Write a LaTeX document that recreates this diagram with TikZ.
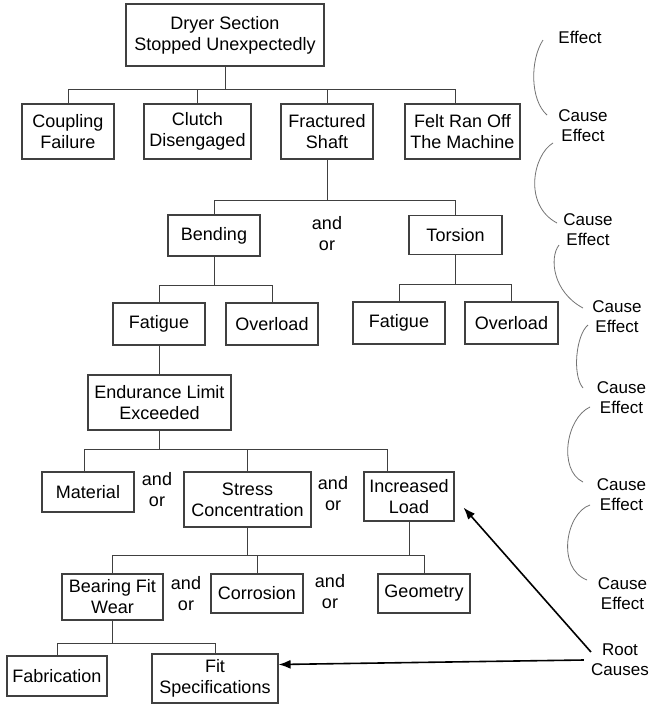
\documentclass[tikz,border=0pt]{standalone}
\usepackage{fontspec}
\setmainfont{Liberation Sans}
\usetikzlibrary{arrows.meta}
\begin{document}
\begin{tikzpicture}[x=1pt,y=-1pt,
  bx/.style={draw=black!75, line width=1.1pt, rectangle, inner sep=0pt, align=center, font=\fontsize{18}{21}\selectfont},
  sz/.style 2 args={minimum width=#1pt, minimum height=#2pt},
  ln/.style={draw=black!75, line width=1pt},
  lbl/.style={inner sep=0pt, align=center, font=\fontsize{17}{20}\selectfont},
  andor/.style={inner sep=0pt, align=center, font=\fontsize{18}{21}\selectfont},
  arcln/.style={draw=black!55, line width=0.8pt},
  arr/.style={draw=black, line width=1.6pt, -{Latex[length=12pt,width=9pt]}}]
\useasboundingbox[fill=white] (0,0) rectangle (660,710);

% boxes
\node[bx,sz={198}{62}] (top) at (225,35) {Dryer Section\\Stopped Unexpectedly};
\node[bx,sz={92}{55}] (coup) at (68,131.5) {Coupling\\Failure};
\node[bx,sz={107}{55}] (clutch) at (197.5,131.5) {Clutch\\Disengaged};
\node[bx,sz={92}{55}] (frac) at (327,131.5) {Fractured\\Shaft};
\node[bx,sz={115}{55}] (felt) at (462.5,131.5) {Felt Ran Off\\The Machine};
\node[bx,sz={92}{41}] (bend) at (214,235.5) {Bending};
\node[bx,sz={93}{39}] (tors) at (455.5,235) {Torsion};
\node[bx,sz={92}{42}] (fatL) at (159,324) {Fatigue};
\node[bx,sz={92}{42}] (ovlL) at (272,324) {Overload};
\node[bx,sz={92}{42}] (fatR) at (399,323) {Fatigue};
\node[bx,sz={93}{42}] (ovlR) at (511.5,323) {Overload};
\node[bx,sz={143}{55}] (endu) at (159.5,402.5) {Endurance Limit\\Exceeded};
\node[bx,sz={92}{40}] (mat) at (88,492) {Material};
\node[bx,sz={127}{55}] (stress) at (247.5,499.5) {Stress\\Concentration};
\node[bx,sz={90}{49}] (inc) at (409,496.5) {Increased\\Load};
\node[bx,sz={101}{46}] (bear) at (112.5,597) {Bearing Fit\\Wear};
\node[bx,sz={92}{39}] (corr) at (257,593.5) {Corrosion};
\node[bx,sz={92}{39}] (geom) at (424,593.5) {Geometry};
\node[bx,sz={100}{40}] (fab) at (57,676) {Fabrication};
\node[bx,sz={126}{49}] (fit) at (215,678.5) {Fit\\Specifications};

% connectors
\coordinate (j1) at ([yshift=-23pt]top.south);
\coordinate (feltin) at ([xshift=-7.5pt]felt.north);
\draw[ln] (top.south) -- (j1);
\draw[ln] (coup.north) |- (feltin |- j1) -- (feltin);
\draw[ln] (clutch.north) -- (clutch.north |- j1);
\draw[ln] (frac.north) -- (frac.north |- j1);

\coordinate (j2) at ([yshift=-41pt]frac.south);
\draw[ln] (frac.south) -- (j2);
\draw[ln] (bend.north) |- (tors.north |- j2) -- (tors.north);

\coordinate (j3) at ([yshift=-29pt]bend.south);
\draw[ln] (bend.south) -- (j3);
\draw[ln] (fatL.north) |- (ovlL.north |- j3) -- (ovlL.north);

\coordinate (j3r) at ([yshift=-29pt]tors.south);
\draw[ln] (tors.south) -- (j3r);
\draw[ln] (fatR.north) |- (ovlR.north |- j3r) -- (ovlR.north);

\draw[ln] (fatL.south) -- (fatL.south |- endu.north);

\coordinate (j5) at ([yshift=-19pt]endu.south);
\coordinate (incin) at ([xshift=-22pt]inc.north);
\coordinate (matin) at ([xshift=-4pt]mat.north);
\draw[ln] (endu.south) -- (j5);
\draw[ln] (matin) |- (incin |- j5) -- (incin);
\draw[ln] (stress.north) -- (stress.north |- j5);

\coordinate (j6) at ([yshift=-28pt]stress.south);
\draw[ln] (stress.south) -- (j6);
\draw[ln] (bear.north) |- (geom.north |- j6) -- (geom.north);
\draw[ln] (corr.north) -- (corr.north |- j6);
\draw[ln] (inc.south) -- (inc.south |- j6);

\coordinate (j7) at ([yshift=-23pt]bear.south);
\draw[ln] (bear.south) -- (j7);
\draw[ln] (fab.north) |- (fit.north |- j7) -- (fit.north);

% and/or labels
\node[andor] (ao1) at (327,234) {and\\or};
\node[andor] (ao2) at (157,490) {and\\or};
\node[andor] (ao3) at (333,494) {and\\or};
\node[andor] (ao4) at (186,594) {and\\or};
\node[andor] (ao5) at (330,592) {and\\or};

% cause / effect column
\node[lbl] (e0) at (580,37) {Effect};
\node[lbl] (c1) at (583,126) {Cause\\Effect};
\node[lbl] (c2) at (588,229.5) {Cause\\Effect};
\node[lbl] (c3) at (617,317) {Cause\\Effect};
\node[lbl] (c4) at (621.5,397.5) {Cause\\Effect};
\node[lbl] (c5) at (621.5,494.5) {Cause\\Effect};
\node[lbl] (c6) at (622.5,593.5) {Cause\\Effect};
\node[lbl] (root) at (620,660) {Root\\Causes};

% arcs
\draw[arcln] (543,40) .. controls (530,60) and (530,100) .. (547,115);
\draw[arcln] (553,143) .. controls (533,155) and (523,205) .. (557,223);
\draw[arcln] (559,245) .. controls (549,258) and (553,292) .. (583,308);
\draw[arcln] (588,325) .. controls (576,335) and (572,375) .. (583,388);
\draw[arcln] (590,407) .. controls (566,418) and (558,470) .. (583,482);
\draw[arcln] (590,505) .. controls (566,513) and (556,568) .. (587,580);

% root cause arrows
\draw[arr] ([yshift=8pt]root.west) -- ([shift={(9pt,14pt)}]inc.south east);
\draw[arr] ([xshift=-7pt]root.west) -- ([yshift=14pt]fit.east);
\end{tikzpicture}
\end{document}
